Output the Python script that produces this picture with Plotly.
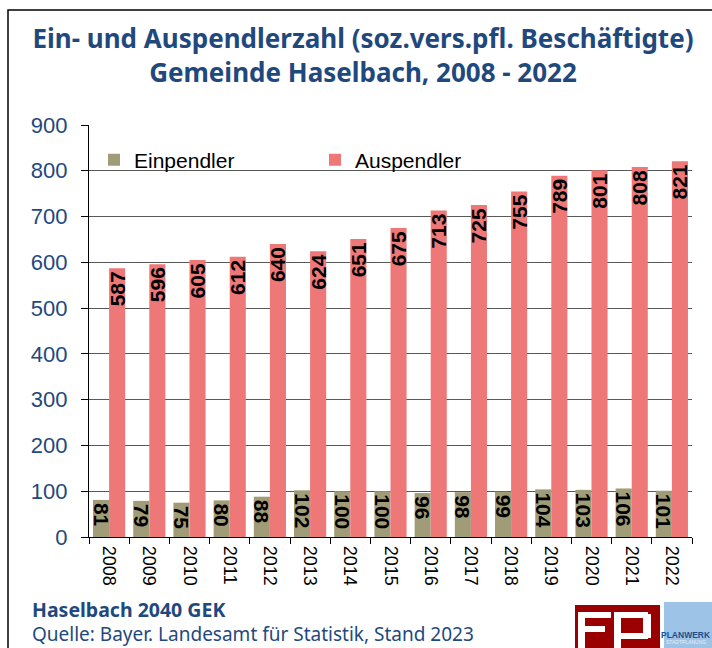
import plotly.graph_objects as go

years = [str(y) for y in range(2008, 2023)]
einpendler = [81, 79, 75, 80, 88, 102, 100, 100, 96, 98, 99, 104, 103, 106, 101]
auspendler = [587, 596, 605, 612, 640, 624, 651, 675, 713, 725, 755, 789, 801, 808, 821]
y_ticks = [0, 100, 200, 300, 400, 500, 600, 700, 800, 900]

W, H = 712, 648
L, R, T, B = 89, 692, 125, 537
BLUE = "#1F497D"
FONT = "Liberation Sans, Arial, sans-serif"


def px(x):
    return (x - L) / (R - L)


def py(y):
    return (B - y) / (B - T)


fig = go.Figure()
fig.add_trace(go.Bar(
    name="Einpendler", x=years, y=einpendler,
    marker=dict(color="#A09C78", line=dict(width=0)),
    text=einpendler, textposition="inside", insidetextanchor="end",
    textangle=90, constraintext="none",
    textfont=dict(family=FONT, size=21, color="black", weight="bold"),
))
fig.add_trace(go.Bar(
    name="Auspendler", x=years, y=auspendler,
    marker=dict(color="#EE7777", line=dict(width=0)),
    text=auspendler, textposition="inside", insidetextanchor="end",
    textangle=-90, constraintext="none",
    textfont=dict(family=FONT, size=21, color="black", weight="bold"),
))

shapes = []
# outer frame
shapes.append(dict(type="rect", xref="paper", yref="paper",
                   x0=px(8), x1=px(730), y0=py(10), y1=py(670),
                   line=dict(color="black", width=1.5), layer="below"))
# FP logo
shapes.append(dict(type="rect", xref="paper", yref="paper",
                   x0=px(575), x1=px(660), y0=py(605), y1=py(660),
                   fillcolor="#9B0000", line=dict(width=0)))
for (x0, x1, y0, y1) in [
    (578, 611, 612, 618),  # F top
    (578, 585, 612, 650),  # F stem
    (578, 605, 626, 632),  # F middle
    (614, 621, 612, 650),  # P stem
    (614, 648, 612, 618),  # P top
    (643, 651, 614, 638),  # P right
    (614, 648, 633, 639),  # P bottom
]:
    shapes.append(dict(type="rect", xref="paper", yref="paper",
                       x0=px(x0), x1=px(x1), y0=py(y0), y1=py(y1),
                       fillcolor="white", line=dict(width=0)))
# PLANWERK box
shapes.append(dict(type="rect", xref="paper", yref="paper",
                   x0=px(664), x1=px(715), y0=py(602), y1=py(660),
                   fillcolor="#9DC3E6", line=dict(width=0)))

annotations = [
    dict(text="Haselbach 2040 GEK", xref="paper", yref="paper",
         x=px(30), y=py(609), xanchor="left", yanchor="middle", showarrow=False,
         font=dict(family="Noto Sans", size=19.5, color=BLUE, weight="bold")),
    dict(text="Quelle: Bayer. Landesamt für Statistik, Stand 2023", xref="paper", yref="paper",
         x=px(30), y=py(634), xanchor="left", yanchor="middle", showarrow=False,
         font=dict(family="Noto Sans", size=19, color=BLUE)),
    dict(text="PLANWERK", xref="paper", yref="paper",
         x=px(686), y=py(635), xanchor="center", yanchor="middle", showarrow=False,
         font=dict(family=FONT, size=8.5, color="#1F4E8C", weight="bold")),
    dict(text="STADTPLANUNG", xref="paper", yref="paper",
         x=px(686), y=py(642), xanchor="center", yanchor="middle", showarrow=False,
         font=dict(family=FONT, size=5, color="#E3EEF8")),
]

fig.update_layout(
    width=W, height=H,
    margin=dict(l=L, r=W - R, t=T, b=H - B),
    paper_bgcolor="white", plot_bgcolor="white",
    barmode="group", bargap=0.2, bargroupgap=0,
    title=dict(
        text="Ein- und Auspendlerzahl (soz.vers.pfl. Beschäftigte)<br>Gemeinde Haselbach, 2008 - 2022",
        x=363 / W, xanchor="center", xref="container",
        y=1 - 48 / H, yanchor="top", yref="container",
        font=dict(family="Noto Sans", size=26, color=BLUE, weight="bold"),
    ),
    xaxis=dict(
        type="category", tickangle=90, tickson="boundaries",
        ticks="outside", ticklen=6, tickcolor="black", tickwidth=1,
        showline=True, linecolor="black", linewidth=1.2,
        showgrid=False, ticklabelstandoff=4,
        tickfont=dict(family=FONT, size=18, color="black"),
    ),
    yaxis=dict(
        range=[0, 900], tickvals=y_ticks,
        ticks="outside", ticklen=7, tickcolor="black",
        showline=True, linecolor="black", linewidth=1.2,
        showgrid=True, gridcolor="#595959", gridwidth=1.2,
        zeroline=False, ticklabelstandoff=9,
        tickfont=dict(family=FONT, size=22, color=BLUE),
    ),
    legend=dict(
        orientation="h", x=px(94), xanchor="left", y=py(160), yanchor="middle",
        entrywidth=176, entrywidthmode="pixels",
        font=dict(family=FONT, size=21, color="black"),
        bgcolor="rgba(0,0,0,0)", itemclick=False,
    ),
    shapes=shapes,
    annotations=annotations,
)
fig.update_traces(cliponaxis=False)
fig.write_html("out.html", post_script="document.body.style.margin='0';",
               config={"displayModeBar": False})
